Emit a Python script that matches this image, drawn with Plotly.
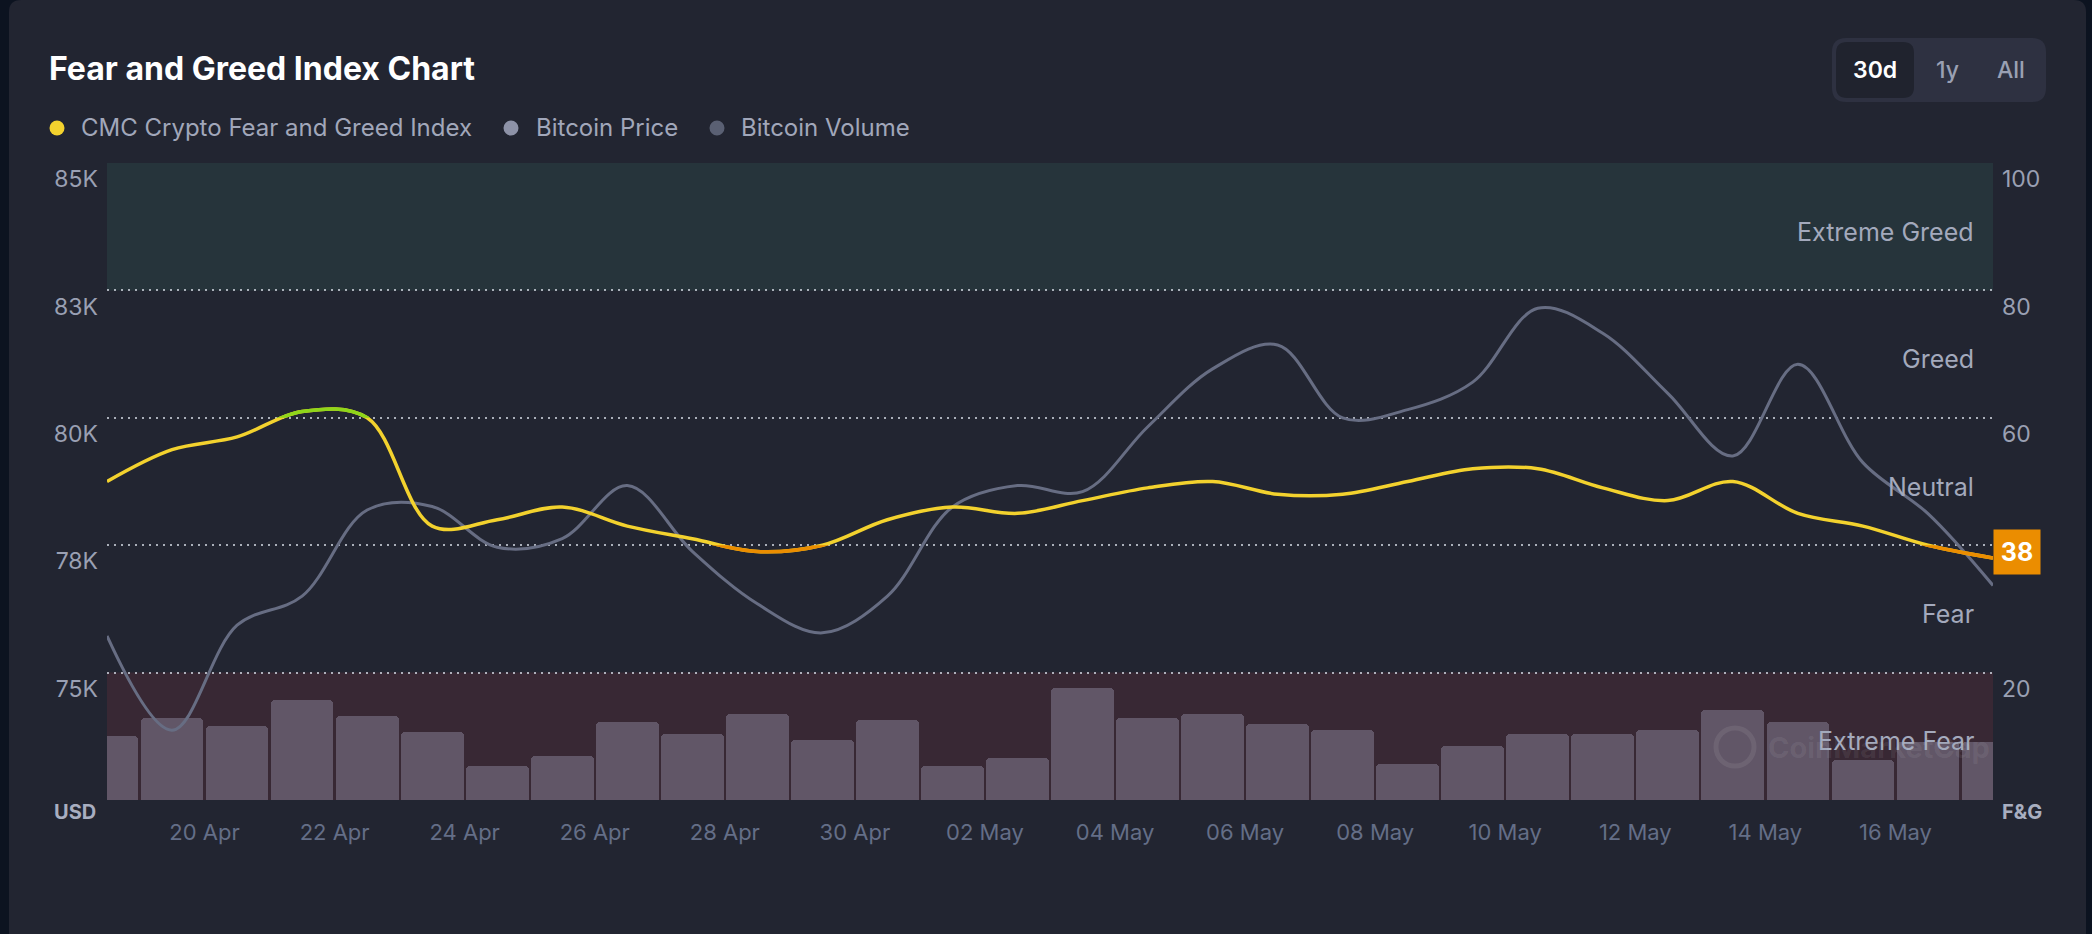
import plotly.graph_objects as go

# ---------------- data ----------------
days = ["2025-04-18", "2025-04-19", "2025-04-20", "2025-04-21", "2025-04-22", "2025-04-23",
        "2025-04-24", "2025-04-25", "2025-04-26", "2025-04-27", "2025-04-28", "2025-04-29",
        "2025-04-30", "2025-05-01", "2025-05-02", "2025-05-03", "2025-05-04", "2025-05-05",
        "2025-05-06", "2025-05-07", "2025-05-08", "2025-05-09", "2025-05-10", "2025-05-11",
        "2025-05-12", "2025-05-13", "2025-05-14", "2025-05-15", "2025-05-16", "2025-05-17"]
fear_greed = [50, 55, 57, 61, 60, 43, 44, 46, 43, 41, 39, 40, 44, 46, 45,
              47, 49, 50, 48, 48, 50, 52, 52, 49, 47, 50, 45, 43, 40, 38]
btc_price = [75920, 74070, 76130, 76700, 78390, 78460, 77660, 77830, 78870, 77580,
             76550, 75980, 76700, 78450, 78870, 78750, 80020, 81160, 81630, 80200,
             80360, 80900, 82350, 81860, 80680, 79450, 81250, 79320, 78320, 76910]
btc_volume_bn = [31.9, 40.9, 37.0, 50.0, 42.0, 34.0, 17.0, 22.1, 39.0, 33.0,
                 43.1, 30.0, 40.0, 17.0, 21.0, 56.0, 41.0, 43.1, 38.0, 35.0,
                 18.1, 27.0, 33.0, 33.0, 34.8, 44.9, 39.1, 20.0, 29.2, 29.2]

price_ticks = [75200, 77700, 80200, 82700, 85200]
price_labels = ["75K", "78K", "80K", "83K", "85K"]
fg_ticks = [0, 20, 40, 60, 80, 100]
fg_labels = ["", "20", "40", "60", "80", "100"]
zone_names = ["Extreme Fear", "Fear", "Neutral", "Greed", "Extreme Greed"]
zone_edges = [0, 20, 40, 60, 80, 100]
legend_names = ["CMC Crypto Fear and Greed Index", "Bitcoin Price", "Bitcoin Volume"]
range_buttons = ["30d", "1y", "All"]

x = [d + " 12:00" for d in days]

# ---------------- layout geometry ----------------
W, H = 2092, 934
L, R, T, B = 107, 1993, 163, 800
FONT = "Inter"
BG_OUT = "#0c1320"
CARD = "#222531"
YELLOW = "#F3D22E"
GREEN = "#8FD61A"
ORANGE = "#EB8D00"
PRICE_C = "#676d83"
BAR_C = "#615667"
TICK_C = "#9aa0b3"
XTICK_C = "#646e87"


def pxx(px):
    return (px - L) / (R - L)


def pxy(py):
    return (B - py) / (B - T)


def rrect(x0, y0, x1, y1, r):
    X, Y = pxx, pxy
    return (f"M{X(x0 + r)},{Y(y0)} L{X(x1 - r)},{Y(y0)} Q{X(x1)},{Y(y0)} {X(x1)},{Y(y0 + r)} "
            f"L{X(x1)},{Y(y1 - r)} Q{X(x1)},{Y(y1)} {X(x1 - r)},{Y(y1)} "
            f"L{X(x0 + r)},{Y(y1)} Q{X(x0)},{Y(y1)} {X(x0)},{Y(y1 - r)} "
            f"L{X(x0)},{Y(y0 + r)} Q{X(x0)},{Y(y0)} {X(x0 + r)},{Y(y0)} Z")


fig = go.Figure()

# volume bars (base axis)
fig.add_trace(go.Bar(x=x, y=btc_volume_bn, yaxis="y", marker=dict(color=BAR_C, cornerradius=4, line=dict(width=0)),
                     width=86400000 * 0.965, name="Bitcoin Volume", hoverinfo="skip"))
# price line
fig.add_trace(go.Scatter(x=x, y=btc_price, yaxis="y2", mode="lines",
                         line=dict(color=PRICE_C, width=3, shape="spline", smoothing=1, simplify=False),
                         name="Bitcoin Price"))
# fear & greed line (yellow base)
fig.add_trace(go.Scatter(x=x, y=fear_greed, yaxis="y3", mode="lines",
                         line=dict(color=YELLOW, width=3.5, shape="spline", smoothing=1, simplify=False),
                         name="CMC Crypto Fear and Greed Index"))
# same line, clipped to the greed region (green)
fig.add_trace(go.Scatter(x=x, y=fear_greed, yaxis="y4", mode="lines",
                         line=dict(color=GREEN, width=3.5, shape="spline", smoothing=1, simplify=False),
                         showlegend=False))
# same line, clipped to the fear region (orange)
fig.add_trace(go.Scatter(x=x, y=fear_greed, yaxis="y5", mode="lines",
                         line=dict(color=ORANGE, width=3.5, shape="spline", smoothing=1, simplify=False),
                         showlegend=False))

shapes = []
# card
shapes.append(dict(type="path", xref="paper", yref="paper", path=rrect(9, 0, 2086, 980, 12),
                   fillcolor=CARD, line=dict(width=0), layer="below"))
# zone bands (extreme greed / extreme fear)
shapes.append(dict(type="rect", xref="paper", yref="paper", x0=0, x1=1,
                   y0=zone_edges[4] / 100, y1=zone_edges[5] / 100,
                   fillcolor="#26343b", line=dict(width=0), layer="below"))
shapes.append(dict(type="rect", xref="paper", yref="paper", x0=0, x1=1,
                   y0=zone_edges[0] / 100, y1=zone_edges[1] / 100,
                   fillcolor="#382834", line=dict(width=0), layer="below"))
# range selector
shapes.append(dict(type="path", xref="paper", yref="paper", path=rrect(1832, 38, 2046, 102, 14),
                   fillcolor="#2e3141", line=dict(width=0), layer="below"))
shapes.append(dict(type="path", xref="paper", yref="paper", path=rrect(1836, 42, 1914, 98, 11),
                   fillcolor="#20232e", line=dict(width=0), layer="below"))
# legend dots
dot_cx = [57, 511, 717]
dot_col = [YELLOW, "#8d92a7", "#5a6073"]
for cx, c in zip(dot_cx, dot_col):
    shapes.append(dict(type="circle", xref="paper", yref="paper",
                       x0=pxx(cx - 7.5), x1=pxx(cx + 7.5), y0=pxy(128 + 7.5), y1=pxy(128 - 7.5),
                       fillcolor=c, line=dict(width=0), layer="above"))
# watermark logo ring
shapes.append(dict(type="circle", xref="paper", yref="paper",
                   x0=pxx(1716), x1=pxx(1754), y0=pxy(766), y1=pxy(728),
                   fillcolor="rgba(0,0,0,0)", line=dict(width=5, color="rgba(255,255,255,0.08)"), layer="above"))

ann = []
ann.append(dict(text="<b>Fear and Greed Index Chart</b>", x=pxx(47), y=pxy(69), xref="paper", yref="paper",
                xanchor="left", yanchor="middle", showarrow=False,
                font=dict(family=FONT, size=32, color="#ffffff")))
text_x = [79, 534, 739]
for name, tx in zip(legend_names, text_x):
    ann.append(dict(text=name, x=pxx(tx), y=pxy(128), xref="paper", yref="paper",
                    xanchor="left", yanchor="middle", showarrow=False,
                    font=dict(family=FONT, size=24, color="#a1a7ba")))
btn_cx = [1875, 1947, 2011]
for i, (bt, cx) in enumerate(zip(range_buttons, btn_cx)):
    ann.append(dict(text=bt, x=pxx(cx), y=pxy(70), xref="paper", yref="paper",
                    xanchor="center", yanchor="middle", showarrow=False,
                    font=dict(family=FONT, size=23, color="#ffffff" if i == 0 else "#9aa0b3",
                              weight=600 if i == 0 else 500)))
# zone labels
for i, zn in enumerate(zone_names):
    ann.append(dict(text=zn, x=pxx(1976), y=(zone_edges[i] + zone_edges[i + 1]) / 2, xref="paper", yref="y3",
                    xanchor="right", yanchor="middle", showarrow=False, yshift=-5,
                    font=dict(family=FONT, size=25, color="#a3a9bc")))
# axis unit labels
ann.append(dict(text="<b>USD</b>", x=pxx(98), y=pxy(812), xref="paper", yref="paper",
                xanchor="right", yanchor="middle", showarrow=False,
                font=dict(family=FONT, size=20, color="#a8aec0")))
ann.append(dict(text="<b>F&G</b>", x=pxx(2000), y=pxy(812), xref="paper", yref="paper",
                xanchor="left", yanchor="middle", showarrow=False,
                font=dict(family=FONT, size=20, color="#a8aec0")))
# watermark
ann.append(dict(text="<b>CoinMarketCap</b>", x=pxx(1766), y=pxy(747), xref="paper", yref="paper",
                xanchor="left", yanchor="middle", showarrow=False,
                font=dict(family=FONT, size=29, color="rgba(255,255,255,0.08)")))
# current value badge
ann.append(dict(text=f"<b>{fear_greed[-1]}</b>", x=x[-1], y=fear_greed[-1], xref="x", yref="y3",
                xanchor="left", yanchor="middle", showarrow=False, yshift=6,
                width=46, height=44, bgcolor=ORANGE, borderpad=0,
                font=dict(family=FONT, size=25, color="#ffffff")))

grid_style = dict(showgrid=True, gridcolor="rgba(205,210,220,0.8)", gridwidth=2, griddash="2px,5px")

fig.update_layout(
    width=W, height=H,
    margin=dict(l=L, r=W - R, t=T, b=H - B, autoexpand=False),
    paper_bgcolor=BG_OUT, plot_bgcolor="rgba(0,0,0,0)",
    showlegend=False, bargap=0,
    font=dict(family=FONT),
    shapes=shapes, annotations=ann,
    xaxis=dict(type="date", range=[x[0], x[-1]], showgrid=False, zeroline=False, showline=False,
               tickformat="%d %b", dtick=2 * 86400000, tick0="2025-04-20", ticks="",
               tickfont=dict(family=FONT, size=22, color=XTICK_C), ticklabelstandoff=17,
               fixedrange=True),
    yaxis=dict(range=[0, 318.5], visible=False, showgrid=False, zeroline=False, fixedrange=True),
    yaxis2=dict(overlaying="y", side="left", range=[72700, 85200], tickvals=price_ticks, ticktext=price_labels,
                showgrid=False, zeroline=False, showline=False, ticks="", ticklabelposition="outside bottom",
                tickfont=dict(family=FONT, size=23, color=TICK_C), ticklabelstandoff=8, automargin=False),
    yaxis3=dict(overlaying="y", side="right", range=[0, 100], tickvals=fg_ticks, ticktext=fg_labels,
                zeroline=False, showline=False, ticks="", ticklabelposition="outside bottom",
                tickfont=dict(family=FONT, size=23, color=TICK_C), ticklabelstandoff=8, automargin=False,
                **grid_style),
    yaxis4=dict(domain=[zone_edges[3] / 100, 1], range=[zone_edges[3], 100], anchor="x", visible=False),
    yaxis5=dict(domain=[0, zone_edges[2] / 100], range=[0, zone_edges[2]], anchor="x", visible=False),
)

fig.write_html("out.html")
